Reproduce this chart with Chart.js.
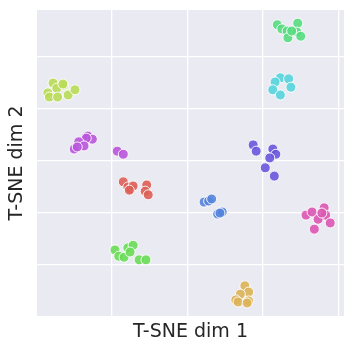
<!DOCTYPE html>
<html>
<head>
<meta charset="utf-8">
<script src="https://cdn.jsdelivr.net/npm/chart.js@4/dist/chart.umd.min.js"></script>
<style>
  html, body { margin: 0; padding: 0; background: #ffffff; }
  #wrap { width: 354px; height: 352px; }
</style>
</head>
<body>
<div id="wrap"><canvas id="c" width="354" height="352"></canvas></div>
<script>
// ---- Data (t-SNE embedding, one array per cluster) ----
const xTicks = [-20, -10, 0, 10];
const yTicks = [-20, -10, 0, 10, 20];

const cluster0 = [[-18.5,-4.0],[-17.9,-5.0],[-17.5,-5.4],[-17.2,-4.8],[-17.7,-5.6],[-15.4,-4.6],[-15.6,-5.8],[-15.2,-6.5]];
const cluster1 = [[-2.4,-24.0],[-1.9,-25.2],[-3.0,-25.6],[-3.6,-26.7],[-3.3,-27.1],[-1.9,-26.9],[-2.1,-27.3]];
const cluster2 = [[-27.8,15.0],[-26.4,14.6],[-27.3,14.0],[-28.5,13.1],[-28.3,12.3],[-27.2,12.3],[-25.8,12.7],[-24.9,13.7],[-26.5,14.8]];
const cluster3 = [[-19.6,-17.1],[-19.1,-18.3],[-18.4,-18.5],[-17.9,-16.7],[-17.2,-16.2],[-17.6,-17.5],[-16.4,-19.0],[-15.5,-19.0]];
const cluster4 = [[1.9,26.2],[2.5,25.4],[3.2,25.0],[3.3,23.7],[4.6,26.5],[4.5,24.8],[5.0,24.0],[3.8,25.0]];
const cluster5 = [[2.3,16.0],[1.6,15.2],[3.4,15.8],[3.7,14.2],[1.3,13.7],[2.3,12.7]];
const cluster6 = [[-7.8,-7.9],[-7.2,-7.7],[-6.8,-7.3],[-6.0,-10.2],[-5.4,-9.8],[-5.7,-10.0]];
const cluster7 = [[-1.3,3.1],[-0.9,1.9],[1.3,2.3],[1.7,1.3],[0.9,0.6],[0.3,-1.3],[1.5,-2.9]];
const cluster8 = [[-23.2,4.8],[-22.6,4.2],[-23.4,4.4],[-24.4,3.7],[-23.7,2.9],[-25.0,2.3],[-24.6,2.7],[-19.3,1.9],[-18.5,1.3]];
const cluster9 = [[5.7,-10.4],[6.5,-9.8],[8.1,-9.0],[8.3,-10.4],[7.3,-11.2],[8.9,-11.9],[6.8,-13.1],[7.8,-10.0]];

const clusters = [cluster0, cluster1, cluster2, cluster3, cluster4, cluster5, cluster6, cluster7, cluster8, cluster9];
const palette = ['#db5f57','#dbb257','#b9db57','#69db57','#57db80','#57d3db','#5784db','#6957db','#b957db','#db57b2'];

function hexA(h, a) {
  const r = parseInt(h.slice(1,3),16), g = parseInt(h.slice(3,5),16), b = parseInt(h.slice(5,7),16);
  return `rgba(${r},${g},${b},${a})`;
}

const datasets = clusters.map((pts, i) => ({
  label: 'cluster ' + i,
  data: pts.map(p => ({x: p[0], y: p[1]})),
  backgroundColor: hexA(palette[i], 0.9),
  borderColor: '#ffffff',
  borderWidth: 0.9,
  pointRadius: 5,
  pointHoverRadius: 5
}));

const plotBg = {
  id: 'plotBg',
  beforeDraw(chart) {
    const {ctx, chartArea: a} = chart;
    ctx.save();
    ctx.fillStyle = '#eaeaf2';
    ctx.fillRect(a.left, a.top, a.right - a.left, a.bottom - a.top);
    ctx.restore();
  }
};

const titleFont = { family: 'DejaVu Sans', size: 19 };

new Chart(document.getElementById('c'), {
  type: 'scatter',
  data: { datasets },
  options: {
    responsive: false,
    animation: false,
    layout: { padding: { top: 10, right: 10, left: 0, bottom: 0 } },
    plugins: { legend: { display: false }, tooltip: { enabled: false } },
    scales: {
      x: {
        type: 'linear',
        min: -29.93, max: 10.73,
        afterBuildTicks: s => { s.ticks = xTicks.map(v => ({value: v})); },
        afterFit: s => { s.height = 36; },
        ticks: { display: false },
        grid: { color: '#ffffff', lineWidth: 1.3, drawTicks: false },
        border: { display: false },
        title: { display: true, text: 'T-SNE dim 1', color: '#262626', font: titleFont, padding: { top: 0, bottom: 9 } }
      },
      y: {
        type: 'linear',
        min: -29.8, max: 29.04,
        afterBuildTicks: s => { s.ticks = yTicks.map(v => ({value: v})); },
        afterFit: s => { s.width = 37; },
        ticks: { display: false },
        grid: { color: '#ffffff', lineWidth: 1.3, drawTicks: false },
        border: { display: false },
        title: { display: true, text: 'T-SNE dim 2', color: '#262626', font: titleFont, padding: { top: 6, bottom: 0 } }
      }
    }
  },
  plugins: [plotBg]
});
</script>
</body>
</html>
